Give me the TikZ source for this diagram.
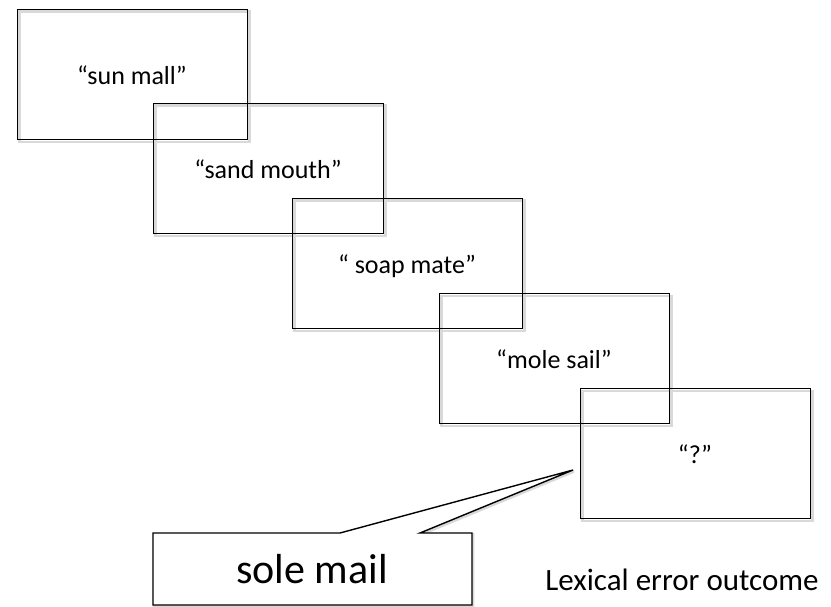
\documentclass[tikz,border=0pt]{standalone}
\usepackage{fontspec}
\setmainfont{Carlito}
\begin{document}
\begin{tikzpicture}[x=1bp,y=-1bp,
  frame/.style={draw=black, line width=1.4bp, minimum width=230bp, minimum height=130bp, inner sep=0pt, anchor=north west},
  shade/.style={draw=black!15, line width=2.6bp, minimum width=230bp, minimum height=130bp, inner sep=0pt, anchor=north west},
  lbl/.style={anchor=base, inner sep=0pt, font=\fontsize{26bp}{30bp}\selectfont},
  biglbl/.style={anchor=base, inner sep=0pt, font=\fontsize{42bp}{48bp}\selectfont},
  outlbl/.style={anchor=base, inner sep=0pt, font=\fontsize{31bp}{36bp}\selectfont}]
\useasboundingbox (0,0) rectangle (831,607);
% shadows
\foreach \x/\y in {17/9,153/103,292/198,439/293,580/388}
  \node[shade] at (\x+1,\y+1.5) {};
% boxes
\node[frame] (b1) at (17,9) {};
\node[frame] (b2) at (153,103) {};
\node[frame] (b3) at (292,198) {};
\node[frame] (b4) at (439,293) {};
\node[frame] (b5) at (580,388) {};
% labels
\node[lbl] (t1) at (132,85) {“sun mall”};
\node[lbl] (t2) at (268,179) {“sand mouth”};
\node[lbl] (t3) at (407,273) {“ soap mate”};
\node[lbl] (t4) at (554,368) {“mole sail”};
\node[lbl] (t5) at (695,463) {“?”};
% callout
\coordinate (tip) at (573,470);
\draw[black!15, line width=2.6bp, line join=miter] (154,534.5) -- (341,534.5) -- (574,471.5) -- (421,534.5) -- (473,534.5) -- (473,606.5) -- (154,606.5) -- cycle;
\draw[fill=white, line width=1.4bp, line join=miter] (153,533) -- (340,533) -- (tip) -- (420,533) -- (472,533) -- (472,605) -- (153,605) -- cycle;
\node[biglbl] (sole) at (312,583) {sole mail};
\node[outlbl] (out) at (682,590) {Lexical error outcome};
\end{tikzpicture}
\end{document}
